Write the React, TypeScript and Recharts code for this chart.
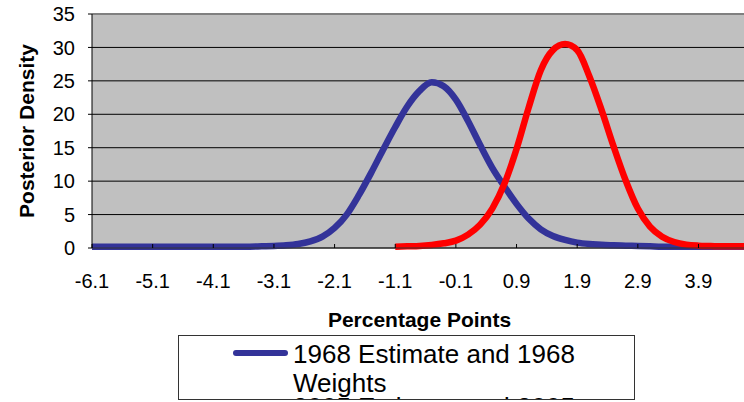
import React from 'react';
import { LineChart, Line, XAxis, YAxis, CartesianGrid, ReferenceLine } from 'recharts';

// x positions (percentage points), read at 0.2 steps
const xPoints = [
  -6.1, -5.9, -5.7, -5.5, -5.3, -5.1, -4.9, -4.7, -4.5, -4.3, -4.1, -3.9,
  -3.7, -3.5, -3.3, -3.1, -2.9, -2.7, -2.5, -2.3, -2.1, -1.9, -1.7, -1.5,
  -1.3, -1.1, -0.9, -0.7, -0.5, -0.3, -0.1, 0.1, 0.3, 0.5, 0.7, 0.9,
  1.1, 1.3, 1.5, 1.7, 1.9, 2.1, 2.3, 2.5, 2.7, 2.9, 3.1, 3.3,
  3.5, 3.7, 3.9, 4.1, 4.3, 4.5, 4.7,
];

const density1968 = [
  0.2, 0.2, 0.2, 0.2, 0.2, 0.2, 0.2, 0.2, 0.2, 0.2, 0.2, 0.2,
  0.2, 0.2, 0.25, 0.3, 0.4, 0.6, 1.0, 1.7, 3.0, 5.0, 7.9, 11.2,
  14.7, 18.1, 21.2, 23.5, 24.8, 24.2, 22.2, 19.0, 15.4, 12.0, 9.2, 6.6,
  4.4, 2.8, 1.8, 1.2, 0.8, 0.6, 0.5, 0.4, 0.35, 0.3, 0.25, 0.2,
  0.2, 0.2, 0.2, 0.2, 0.2, 0.2, 0.2,
];

const density2005 = [
  null, null, null, null, null, null, null, null, null, null, null, null,
  null, null, null, null, null, null, null, null, null, null, null, null,
  null, 0.2, 0.25, 0.3, 0.45, 0.7, 1.1, 2.0, 3.5, 5.9, 9.6, 14.8,
  21.0, 26.6, 29.6, 30.5, 29.6, 25.7, 20.7, 15.2, 10.1, 5.9, 3.2, 1.7,
  0.9, 0.5, 0.35, 0.3, 0.25, 0.25, 0.25,
];

const xTicks = [-6.1, -5.1, -4.1, -3.1, -2.1, -1.1, -0.1, 0.9, 1.9, 2.9, 3.9];
const yTicks = [0, 5, 10, 15, 20, 25, 30, 35];

const seriesNames = ['1968 Estimate and 1968 Weights', '2005 Estimate and 2005 Weights'];
const seriesColors = ['#333399', '#FF0000'];

const data = xPoints.map((x, i) => ({
  x,
  s1968: density1968[i],
  s2005: density2005[i],
}));

const FONT = '"Liberation Sans", Arial, sans-serif';

const XTick = (props: any) => {
  const { x, y, payload } = props;
  return (
    <g>
      <line x1={x} x2={x} y1={y} y2={y - 4} stroke="#000" />
      <text x={x} y={y + 40} textAnchor="middle" fontSize={20} fontFamily={FONT} fill="#000">
        {Number(payload.value).toFixed(1)}
      </text>
    </g>
  );
};

const XLabel = (props: any) => {
  const vb = props.viewBox;
  return (
    <text
      x={vb.x + vb.width / 2}
      y={vb.y + 79}
      textAnchor="middle"
      fontSize={21}
      fontWeight="bold"
      fontFamily={FONT}
      fill="#000"
    >
      Percentage Points
    </text>
  );
};

const YLabel = (props: any) => {
  const vb = props.viewBox;
  const cx = vb.x + 26;
  const cy = vb.y + vb.height / 2;
  return (
    <text
      x={cx}
      y={cy}
      transform={`rotate(-90 ${cx} ${cy})`}
      textAnchor="middle"
      dominantBaseline="central"
      fontSize={21}
      fontWeight="bold"
      fontFamily={FONT}
      fill="#000"
    >
      Posterior Density
    </text>
  );
};

const LegendBox = () => (
  <div
    style={{
      position: 'absolute',
      left: 178,
      top: 335,
      width: 457,
      height: 65,
      border: '1px solid #333',
      boxSizing: 'border-box',
      background: '#fff',
      overflow: 'hidden',
      fontFamily: FONT,
      fontSize: 26,
      lineHeight: '29px',
      color: '#000',
    }}
  >
    {seriesNames.map((name, i) => {
      const top = i === 0 ? 4 : 56.6;
      return (
        <React.Fragment key={name}>
          <div
            style={{
              position: 'absolute',
              left: 54,
              top: top + 10,
              width: 55,
              height: 6,
              borderRadius: 3,
              background: seriesColors[i],
            }}
          />
          <div style={{ position: 'absolute', left: 114, top, width: 330 }}>{name}</div>
        </React.Fragment>
      );
    })}
  </div>
);

export default function App() {
  return (
    <div
      style={{
        position: 'absolute',
        left: 0,
        top: 0,
        width: 744,
        height: 402,
        overflow: 'hidden',
        background: '#fff',
      }}
    >
      <LineChart width={747} height={402} data={data} margin={{ top: 14, right: 0, bottom: 0, left: 0 }}>
        <CartesianGrid vertical={false} stroke="#000" fill="#C0C0C0" fillOpacity={1} />
        <XAxis
          dataKey="x"
          type="number"
          domain={[-6.1, 4.7]}
          allowDataOverflow
          ticks={xTicks}
          interval={0}
          height={154}
          tickLine={false}
          tickSize={0}
          tickMargin={0}
          axisLine={{ stroke: '#333' }}
          tick={<XTick />}
          label={<XLabel />}
        />
        <YAxis
          type="number"
          domain={[0, 35]}
          ticks={yTicks}
          interval={0}
          width={92}
          tickSize={4}
          tickMargin={13}
          axisLine={{ stroke: '#000' }}
          tickLine={{ stroke: '#000' }}
          tick={{ fontSize: 20, fontFamily: FONT, fill: '#000' }}
          label={<YLabel />}
        />
        <ReferenceLine y={35} stroke="#808080" strokeWidth={2} />
        <Line
          type="monotone"
          dataKey="s1968"
          name={seriesNames[0]}
          stroke={seriesColors[0]}
          strokeWidth={6.5}
          dot={false}
          activeDot={false}
          connectNulls
          isAnimationActive={false}
        />
        <Line
          type="monotone"
          dataKey="s2005"
          name={seriesNames[1]}
          stroke={seriesColors[1]}
          strokeWidth={6.5}
          dot={false}
          activeDot={false}
          connectNulls
          isAnimationActive={false}
        />
      </LineChart>
      <LegendBox />
    </div>
  );
}
